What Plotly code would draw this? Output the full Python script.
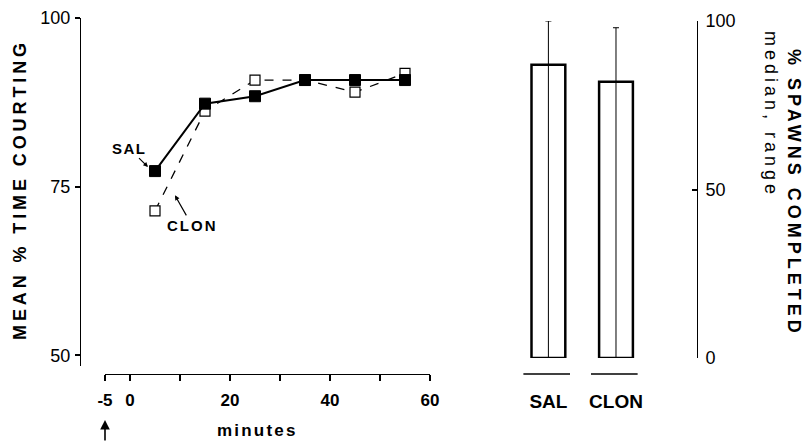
import plotly.graph_objects as go

# ---- data ----
minutes = [5, 15, 25, 35, 45, 55]
sal_courting = [77.3, 87.3, 88.4, 90.8, 90.8, 90.8]
clon_courting = [71.4, 86.2, 90.8, 90.8, 89.0, 91.8]

groups = ["SAL", "CLON"]
spawns_median = [87.0, 82.0]
spawns_min = [0.0, 0.0]
spawns_max = [100.0, 98.0]

x_tickvals = [-5, 0, 10, 20, 30, 40, 50, 60]
x_ticktext = ["-5", "0", "", "20", "", "40", "", "60"]
y_tickvals = [50, 75, 100]
y2_tickvals = [0, 50, 100]

W, H = 806, 442
FONT = "Liberation Sans, Arial, Helvetica, sans-serif"


def px_x(p):
    return p / W


def px_y(p):
    return 1 - p / H


fig = go.Figure()

# left panel: time course
fig.add_trace(go.Scatter(
    x=minutes, y=clon_courting, mode="lines+markers",
    line=dict(color="black", width=1.3, dash="dash"),
    marker=dict(symbol="square", size=10, color="white",
                line=dict(color="black", width=1.2)),
    xaxis="x", yaxis="y", name="CLON", showlegend=False))
fig.add_trace(go.Scatter(
    x=minutes, y=sal_courting, mode="lines+markers",
    line=dict(color="black", width=2),
    marker=dict(symbol="square", size=11, color="black",
                line=dict(color="black", width=1)),
    xaxis="x", yaxis="y", name="SAL", showlegend=False))

# right panel: bars with range
plus = [mx - md for mx, md in zip(spawns_max, spawns_median)]
minus = [md - mn for mn, md in zip(spawns_min, spawns_median)]
fig.add_trace(go.Bar(
    x=groups, y=spawns_median, width=0.5,
    marker=dict(color="white", line=dict(color="black", width=2.5)),
    error_y=dict(type="data", array=plus, arrayminus=minus,
                 color="black", thickness=1, width=3),
    xaxis="x2", yaxis="y2", showlegend=False))

fig.update_layout(
    template="none",
    width=W, height=H,
    margin=dict(l=0, r=0, t=0, b=0, pad=0),
    paper_bgcolor="white", plot_bgcolor="white",
    font=dict(family=FONT, color="black"),
    showlegend=False,
    xaxis=dict(
        domain=[px_x(105), px_x(430)], range=[-5, 60],
        anchor="free", position=px_y(374), automargin=False,
        showline=True, linecolor="black", linewidth=1,
        ticks="outside", ticklen=6, tickcolor="black", tickwidth=1.5,
        tickvals=x_tickvals, ticktext=x_ticktext,
        tickfont=dict(size=17, weight="bold", family=FONT, color="black"),
        ticklabelstandoff=5,
        showgrid=False, zeroline=False),
    yaxis=dict(
        domain=[px_y(366), px_y(18)], range=[48.4, 100],
        anchor="free", position=px_x(80), automargin=False,
        showline=True, linecolor="black", linewidth=1,
        ticks="outside", ticklen=5, tickcolor="black", tickwidth=1.5,
        tickvals=y_tickvals,
        tickfont=dict(size=18, family=FONT, color="black"),
        ticklabelstandoff=1,
        showgrid=False, zeroline=False),
    xaxis2=dict(
        domain=[px_x(514.6), px_x(649.8)], range=[-0.5, 1.5],
        anchor="free", position=px_y(374), automargin=False,
        showline=False, ticks="",
        tickfont=dict(size=19, weight="bold", family=FONT, color="black"),
        ticklabelstandoff=14,
        showgrid=False, zeroline=False),
    yaxis2=dict(
        domain=[px_y(358), px_y(21)], range=[0, 100],
        anchor="free", position=px_x(697), side="right", automargin=False,
        showline=True, linecolor="black", linewidth=1,
        ticks="inside", ticklen=5, tickcolor="black", tickwidth=1.5,
        tickvals=y2_tickvals,
        tickfont=dict(size=18, family=FONT, color="black"),
        ticklabelstandoff=4,
        showgrid=False, zeroline=False),
)

# short base lines under each bar
for i, g in enumerate(groups):
    fig.add_shape(type="line", xref="x2", yref="paper",
                  x0=i - 0.37, x1=i + 0.32, y0=px_y(374), y1=px_y(374),
                  line=dict(color="black", width=1.3))

ls = lambda s, sp: f'<span style="letter-spacing:{sp}px">{s}</span>'

common = dict(xanchor="center", yanchor="middle")
annotations = [
    dict(text=ls("<b>MEAN % TIME COURTING</b>", 3.9), xref="paper", yref="paper",
         x=px_x(20), y=px_y(190), textangle=-90, showarrow=False,
         font=dict(size=18, family=FONT, color="black"), **common),
    dict(text=ls("<b>% SPAWNS COMPLETED</b>", 4), xref="paper", yref="paper",
         x=px_x(794), y=px_y(193), textangle=90, showarrow=False,
         font=dict(size=18, family=FONT, color="black"), **common),
    dict(text=ls("median, range", 4), xref="paper", yref="paper",
         x=px_x(771), y=px_y(114), textangle=90, showarrow=False,
         font=dict(size=18, family=FONT, color="black"), **common),
    dict(text=ls("<b>minutes</b>", 2.2), xref="paper", yref="paper",
         x=px_x(257), y=0, showarrow=False, xanchor="center", yanchor="bottom",
         font=dict(size=17, family=FONT, color="black")),
    dict(text=ls("<b>SAL</b>", 1.5), xref="x", yref="y", x=3.6, y=77.9,
         ax=-19, ay=-19, showarrow=True, arrowhead=2, arrowsize=0.8,
         arrowwidth=1.2, arrowcolor="black",
         font=dict(size=15, family=FONT, color="black")),
    dict(text=ls("<b>CLON</b>", 2), xref="x", yref="y", x=9, y=73.7,
         ax=17, ay=30, showarrow=True, arrowhead=2, arrowsize=0.8,
         arrowwidth=1.2, arrowcolor="black",
         font=dict(size=15, family=FONT, color="black")),
    dict(text="", xref="x", yref="paper", x=-5, y=px_y(420),
         ax=0, ay=26, showarrow=True, arrowhead=2, arrowsize=1.2,
         arrowwidth=1.6, arrowcolor="black"),
]
fig.update_layout(annotations=annotations)

fig.write_html(
    "out.html",
    config={"displayModeBar": False},
    post_script="document.body.style.margin='0';document.body.style.overflow='hidden';",
)
